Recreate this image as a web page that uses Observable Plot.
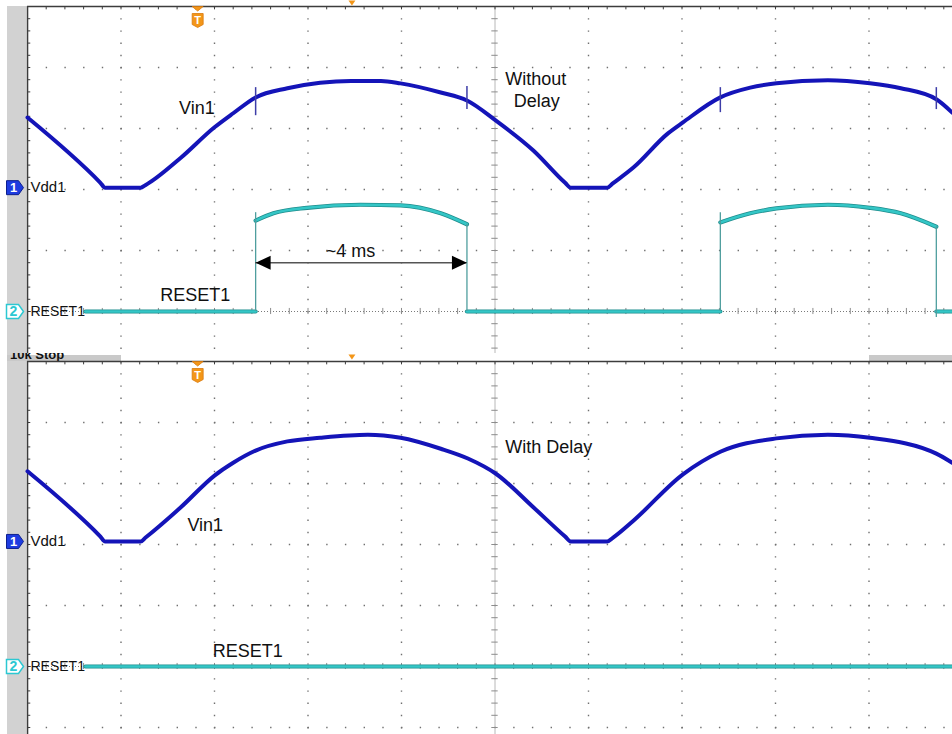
<!DOCTYPE html>
<html>
<head>
<meta charset="utf-8">
<script src="https://cdn.jsdelivr.net/npm/d3@7"></script>
<script src="https://cdn.jsdelivr.net/npm/@observablehq/plot@0.6"></script>
<style>
html,body{margin:0;padding:0;background:#fff;}
#wrap{position:relative;width:952px;height:734px;overflow:hidden;background:#fff;}
#strip{position:absolute;left:7px;width:19px;top:6px;height:728px;background:#d2d2d2;}
.hbar{position:absolute;top:355px;height:6px;background:#c9c9c9;}
#stopclip{position:absolute;left:0;top:353px;width:200px;height:8px;overflow:hidden;}
#stop{position:absolute;left:10px;top:-6px;font:bold 13px "Liberation Sans",Arial,sans-serif;color:#111;white-space:nowrap;line-height:15px;}
#top{position:absolute;left:0;top:0;}
#bot{position:absolute;left:0;top:353px;}
</style>
</head>
<body>
<div id="wrap">
  <div id="strip"></div>
  <div class="hbar" style="left:7px;width:114px"></div>
  <div class="hbar" style="left:869px;width:83px"></div>
  <div id="stopclip"><div id="stop">10k Stop</div></div>
  <div id="top"></div>
  <div id="bot"></div>
</div>
<script>
// ---------------- DATA ----------------
// time in screen divisions (0 = left edge, 10 divisions across, right side cropped)
// amplitude in divisions above each panel's centre line

// Top panel ("Without Delay")
const vinTopT = [0, 0.78, 0.83, 1.21, 1.26, 1.64, 2.00, 2.20, 2.44, 2.78, 3.13, 3.46, 3.78, 3.99, 4.42, 4.70, 5.01, 5.41, 5.75, 5.81, 6.20, 6.26, 6.48, 6.85, 7.01, 7.41, 7.73, 8.01, 8.56, 9.01, 9.34, 9.72, 9.89];
const vinTopV = [3.18, 2.11, 2.03, 2.03, 2.07, 2.52, 3.02, 3.25, 3.51, 3.66, 3.75, 3.78, 3.78, 3.74, 3.59, 3.46, 3.13, 2.64, 2.11, 2.03, 2.03, 2.10, 2.36, 2.92, 3.10, 3.51, 3.67, 3.74, 3.79, 3.74, 3.66, 3.48, 3.26];

const resetTopLowStart = [0.62, 4.70, 9.72];
const resetTopLowEnd   = [2.44, 7.41, 9.89];
const resetTopHigh1T = [2.44, 2.63, 2.99, 3.56, 3.99, 4.42, 4.70];
const resetTopHigh1V = [1.49, 1.61, 1.70, 1.75, 1.74, 1.61, 1.43];
const resetTopHigh2T = [7.41, 7.73, 8.01, 8.56, 9.01, 9.34, 9.72];
const resetTopHigh2V = [1.46, 1.61, 1.69, 1.75, 1.70, 1.61, 1.39];
const edgeTopT    = [2.44, 4.70, 7.41, 9.72];
const edgeTopFrom = [0, 1.43, 0, 1.39];
const edgeTopTo   = [1.62, 0, 1.62, -0.10];
const vinTickT  = [2.44, 4.70, 7.41, 9.72];
const vinTickLo = [3.21, 3.31, 3.26, 3.31];
const vinTickHi = [3.67, 3.69, 3.67, 3.67];
const arrowT1 = 2.44, arrowT2 = 4.70, arrowV = 0.80;

const labelTopText = ["Vin1", "Without", "Delay", "~4 ms", "RESET1"];
const labelTopT    = [1.62, 5.11, 5.20, 3.19, 1.42];
const labelTopV    = [3.34, 3.81, 3.44, 0.98, 0.26];

// Bottom panel ("With Delay")
const vinBotT = [0, 0.78, 0.83, 1.21, 1.26, 1.64, 2.00, 2.20, 2.44, 2.78, 3.13, 3.64, 3.99, 4.42, 4.71, 5.01, 5.41, 5.75, 5.81, 6.20, 6.26, 6.48, 7.01, 7.41, 8.01, 8.56, 9.01, 9.72, 9.89];
const vinBotV = [3.20, 2.13, 2.05, 2.05, 2.11, 2.61, 3.13, 3.34, 3.54, 3.69, 3.75, 3.80, 3.75, 3.57, 3.41, 3.16, 2.61, 2.13, 2.05, 2.05, 2.11, 2.39, 3.15, 3.52, 3.74, 3.80, 3.75, 3.49, 3.34];
const resetBotLowStart = [0.62];
const resetBotLowEnd   = [9.89];
const labelBotText = ["With Delay", "Vin1", "RESET1"];
const labelBotT    = [5.11, 1.71, 1.98];
const labelBotV    = [3.59, 2.31, 0.25];

// channel reference levels, trigger & horizontal position markers
const ch1Level = [2.03, 2.05];   // top, bottom
const ch2Level = [0, 0];
const trigT = 1.82;
const hposT = 3.47;

// ---------------- GRATICULE ----------------
const xMajor = [1, 2, 3, 4, 6, 7, 8, 9];
const yMajor = [-4, -3, -2, -1, 1, 2, 3, 4];
const xMinor = d3.range(0, 10.0001, 0.2);
const yMinor = d3.range(-5, 5.0001, 0.2);

const FONT = "Liberation Sans, Arial, sans-serif";
const BLUE = "#1414b8";
const CYAN = "#34c6c6";
const CYAN_DARK = "#1f8d8d";
const ORANGE = "#f39619";

const chSym = {draw(ctx) { ctx.moveTo(-9, -7); ctx.lineTo(3, -7); ctx.lineTo(8, 0); ctx.lineTo(3, 7); ctx.lineTo(-9, 7); ctx.closePath(); }};
const trigSym = {draw(ctx) {
  ctx.moveTo(-5.5, 0); ctx.lineTo(5.5, 0); ctx.lineTo(0, 4.5); ctx.closePath();
  ctx.moveTo(-5.5, 7); ctx.lineTo(5.5, 7); ctx.lineTo(5.5, 18); ctx.lineTo(0, 21); ctx.lineTo(-5.5, 18); ctx.closePath();
}};
const hposSym = {draw(ctx) { ctx.moveTo(-3.5, -3); ctx.lineTo(3.5, -3); ctx.lineTo(0, 2); ctx.closePath(); }};
const headL = {draw(ctx) { ctx.moveTo(0, 0); ctx.lineTo(15, -7); ctx.lineTo(15, 7); ctx.closePath(); }};
const headR = {draw(ctx) { ctx.moveTo(0, 0); ctx.lineTo(-15, -7); ctx.lineTo(-15, 7); ctx.closePath(); }};

function graticule() {
  return [
    Plot.ruleX(xMajor, {y1: 5, y2: -6, stroke: "#707070", strokeWidth: 1.4, strokeDasharray: "1.4,10.8"}),
    Plot.ruleY(yMajor, {x1: 0, x2: 10, stroke: "#707070", strokeWidth: 1.4, strokeDasharray: "1.4,17.3"}),
    Plot.ruleX([5], {y1: 5, y2: -6, stroke: "#b8b8b8", strokeWidth: 1}),
    Plot.ruleY(yMinor, {x1: 4.966, x2: 5.034, stroke: "#8c8c8c", strokeWidth: 1}),
    Plot.ruleY([0], {x1: 0, x2: 10, stroke: "#7a7a7a", strokeWidth: 1, strokeDasharray: "1,2"}),
    Plot.ruleX(xMinor, {y1: -0.05, y2: 0.05, stroke: "#8c8c8c", strokeWidth: 1}),
    Plot.ruleX([0], {y1: 5, y2: -6, stroke: "#3c3c3c", strokeWidth: 1.6}),
    Plot.ruleY(yMinor, {x1: 0, x2: 0.035, stroke: "#3c3c3c", strokeWidth: 1}),
    Plot.ruleY([5], {x1: 0, x2: 10, stroke: "#3c3c3c", strokeWidth: 1.6}),
    Plot.ruleX(xMinor, {y1: 5, y2: 4.945, stroke: "#3c3c3c", strokeWidth: 1})
  ];
}

function resetRecords(lowS, lowE, highs) {
  const recs = [];
  lowS.forEach((a, i) => { recs.push({t: a, v: 0, seg: "L" + i}); recs.push({t: lowE[i], v: 0, seg: "L" + i}); });
  highs.forEach(([T, V], j) => T.forEach((t, i) => recs.push({t, v: V[i], seg: "H" + j})));
  return recs;
}

function panel(o) {
  const vin = o.vinT.map((t, i) => ({t, v: o.vinV[i]}));
  const marks = [
    ...graticule(),
    Plot.line(o.reset, {x: "t", y: "v", z: "seg", stroke: CYAN_DARK, strokeWidth: 4.2, curve: "monotone-x"}),
    Plot.line(o.reset, {x: "t", y: "v", z: "seg", stroke: CYAN, strokeWidth: 2.6, curve: "monotone-x"}),
    Plot.line(vin, {x: "t", y: "v", stroke: BLUE, strokeWidth: 4, curve: "monotone-x"}),
    // channel markers & labels
    Plot.dot([o.ch1], {x: 0, y: d => d, symbol: chSym, fill: "#1e3ce0", stroke: "#0d1f8f", strokeWidth: 1, dx: -12}),
    Plot.text([o.ch1], {x: 0, y: d => d, text: () => "1", dx: -14, fill: "white", fontWeight: "bold", fontSize: 13, fontFamily: FONT}),
    Plot.text([o.ch1], {x: 0, y: d => d, text: () => "Vdd1", dx: 3, textAnchor: "start", fontSize: 15, fill: "#111", fontFamily: FONT}),
    Plot.dot([o.ch2], {x: 0, y: d => d, symbol: chSym, fill: "white", stroke: "#2cc8d2", strokeWidth: 1.5, dx: -12}),
    Plot.text([o.ch2], {x: 0, y: d => d, text: () => "2", dx: -14, fill: "#2cc8d2", fontWeight: "bold", fontSize: 14, fontFamily: FONT}),
    Plot.text([o.ch2], {x: 0, y: d => d, text: () => "RESET1", dx: 3, textAnchor: "start", fontSize: 14, fill: "#111", fontFamily: FONT}),
    // trigger & position markers
    Plot.dot([trigT], {x: d => d, y: 5, symbol: trigSym, fill: ORANGE, stroke: "#d97a0c", strokeWidth: 0.8}),
    Plot.text([trigT], {x: d => d, y: 5, dy: 14, text: () => "T", fill: "white", fontWeight: "bold", fontSize: 11, fontFamily: FONT}),
    Plot.dot([hposT], {x: d => d, y: 5, dy: o.hposDy, symbol: hposSym, fill: ORANGE}),
    // annotations
    Plot.text(o.labelText, {x: (d, i) => o.labelT[i], y: (d, i) => o.labelV[i], text: d => d, textAnchor: "start", fontSize: 18, fill: "#111", fontFamily: FONT})
  ];
  if (o.extra) marks.push(...o.extra);
  return Plot.plot({
    width: 952, height: o.height,
    marginLeft: 0, marginRight: 0, marginTop: 0, marginBottom: 0,
    x: {domain: [0, 10], range: [27, 962], axis: null},
    y: {domain: [-5, 5], range: o.yRange, axis: null},
    style: {background: "transparent", overflow: "hidden"},
    marks
  });
}

const edgesTop = edgeTopT.map((t, i) => ({t, from: edgeTopFrom[i], to: edgeTopTo[i]}));
const ticksTop = vinTickT.map((t, i) => ({t, lo: vinTickLo[i], hi: vinTickHi[i]}));
const arrow = [{t1: arrowT1, t2: arrowT2, v: arrowV}];

const topPlot = panel({
  height: 353, yRange: [616, 6],
  vinT: vinTopT, vinV: vinTopV,
  reset: resetRecords(resetTopLowStart, resetTopLowEnd, [[resetTopHigh1T, resetTopHigh1V], [resetTopHigh2T, resetTopHigh2V]]),
  ch1: ch1Level[0], ch2: ch2Level[0], hposDy: -3,
  labelText: labelTopText, labelT: labelTopT, labelV: labelTopV,
  extra: [
    Plot.ruleX(edgesTop, {x: "t", y1: "from", y2: "to", stroke: "#4f9e9e", strokeWidth: 1.3}),
    Plot.ruleX(ticksTop, {x: "t", y1: "lo", y2: "hi", stroke: "#3d3da8", strokeWidth: 1.5}),
    Plot.ruleY(arrow, {y: "v", x1: "t1", x2: "t2", stroke: "#555", strokeWidth: 1.6}),
    Plot.dot(arrow, {x: "t1", y: "v", symbol: headL, fill: "#000", stroke: "none"}),
    Plot.dot(arrow, {x: "t2", y: "v", symbol: headR, fill: "#000", stroke: "none"})
  ]
});
document.getElementById("top").appendChild(topPlot);

const botPlot = panel({
  height: 381, yRange: [618, 8],
  vinT: vinBotT, vinV: vinBotV,
  reset: resetRecords(resetBotLowStart, resetBotLowEnd, []),
  ch1: ch1Level[1], ch2: ch2Level[1], hposDy: -4,
  labelText: labelBotText, labelT: labelBotT, labelV: labelBotV
});
document.getElementById("bot").appendChild(botPlot);
</script>
</body>
</html>
